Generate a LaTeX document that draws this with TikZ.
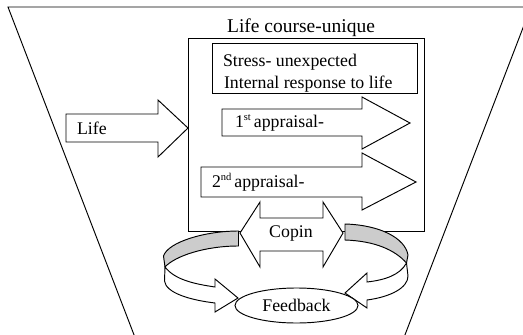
\documentclass[tikz,border=0pt]{standalone}
\usepackage{fontspec}
\setmainfont{Liberation Serif}
\usetikzlibrary{shapes.geometric}
\newcommand{\supsm}[1]{\raisebox{6.5pt}{\fontsize{10.5}{11}\selectfont #1}}
\tikzset{
  shape line/.style={draw=black, line width=0.95pt, line join=miter},
  block/.style={shape line, fill=white},
  ribbonback/.style={shape line, fill=black!20},
  txt/.style={inner sep=0pt, outer sep=0pt, font=\fontsize{17.8}{21.5}\selectfont},
  titletxt/.style={inner sep=0pt, outer sep=0pt, font=\fontsize{19.5}{23}\selectfont},
}
\begin{document}
\begin{tikzpicture}[x=1pt, y=-1pt]
\useasboundingbox (0,0) rectangle (523,335);
\clip (0,0) rectangle (523,335);
\fill[white] (0,0) rectangle (523,335);
% funnel
\draw[shape line] (136,340) -- (8,7) -- (535,7);
\draw[shape line] (403,340) -- (531,7);
% main box
\draw[block] (188,38) rectangle (424,231);
% inner box
\draw[block] (212,43) rectangle (417,93);
% appraisal arrows
\draw[block] (222,109) -- (362,109) -- (362,97) -- (410,123) -- (362,149) -- (362,136) -- (222,136) -- cycle;
\draw[block] (201,167) -- (362,167) -- (362,153) -- (416,182) -- (362,210) -- (362,197) -- (201,197) -- cycle;
% life arrow
\draw[block] (66,114) -- (158,114) -- (158,100) -- (188,128) -- (158,157) -- (158,142) -- (66,142) -- cycle;
% coping double arrow
\draw[block] (240,233) -- (260,202) -- (260,218) -- (323,218) -- (323,202) -- (343,233) -- (323,267) -- (323,251) -- (260,251) -- (260,267) -- cycle;
% left ribbon
\draw[ribbonback] (238.5,231) .. controls (205,231) and (168,242) .. (163.5,256)
  -- (165,267) .. controls (175,256) and (205,246) .. (238.5,246) -- cycle;
\draw[block] (165,267) .. controls (175,280) and (195,284) .. (215,287)
  -- (215,279) -- (238,298) -- (215,312) -- (215,303)
  .. controls (190,300) and (166,293) .. (164.5,281) -- cycle;
% right ribbon
\draw[ribbonback] (345,224) .. controls (380,225) and (405,238) .. (408,255)
  -- (406.5,263) .. controls (395,250) and (375,241) .. (345,240) -- cycle;
\draw[block] (406.5,263) .. controls (400,275) and (385,280) .. (367,282)
  -- (367,273) -- (345,293) -- (367,308) -- (367,300)
  .. controls (390,297) and (408,288) .. (408,276) -- cycle;
% feedback
\node[block, ellipse, minimum width=123pt, minimum height=35pt, inner sep=0pt,
  font=\fontsize{17.8}{21.5}\selectfont] (feedback) at (296.5,305.5) {\raisebox{-1.5pt}{Feedback}};
% texts
\node[titletxt, anchor=base] (title) at (301,32) {Life course-unique};
\node[txt, anchor=base west] (stress) at (223,66) {Stress- unexpected};
\node[txt, anchor=base west] (internal) at (224,88) {Internal response to life};
\node[txt, anchor=base west] (life) at (77,134) {Life};
\node[txt, anchor=base west] (first) at (235,127) {1\supsm{st}\,appraisal-};
\node[txt, anchor=base west] (second) at (212,187) {2\supsm{nd}\,appraisal-};
\node[txt, anchor=base] (copin) at (291,237) {Copin};
\end{tikzpicture}
\end{document}
